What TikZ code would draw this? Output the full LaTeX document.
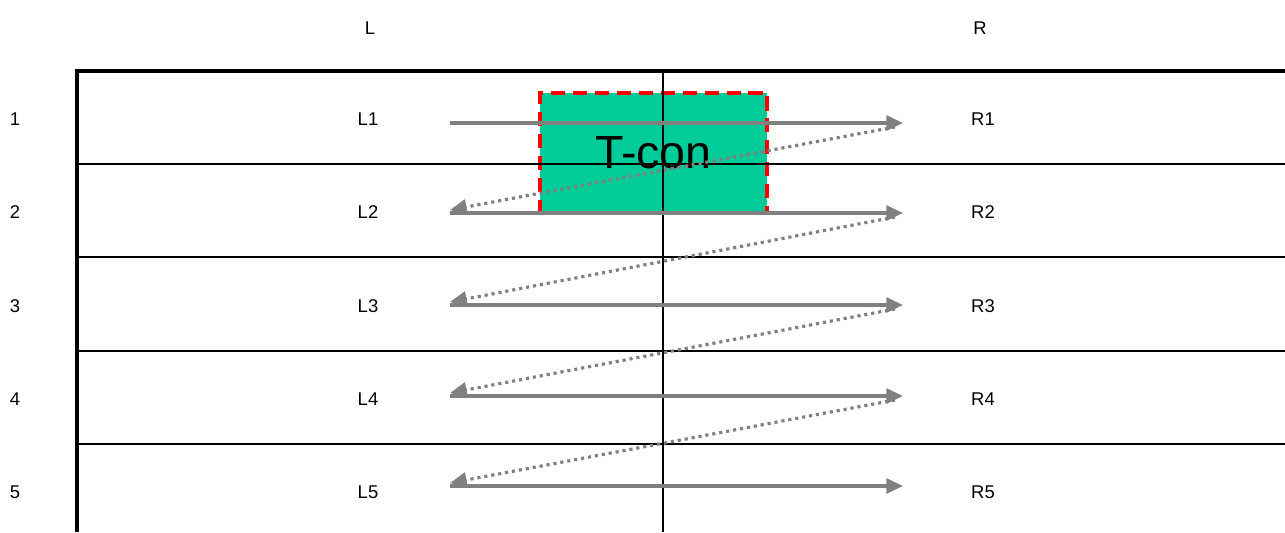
\documentclass[tikz,border=0pt]{standalone}
\usepackage{fontspec}
\setmainfont{Liberation Sans}
\usetikzlibrary{arrows.meta, positioning}
\usepackage{xcolor}
\definecolor{tcongreen}{RGB}{0,204,153}
\definecolor{linkgray}{RGB}{128,128,128}

\begin{document}
\begin{tikzpicture}[
    x=0.02cm, y=-0.02cm,
    lbl/.style={font=\fontsize{10.5}{12}\selectfont, inner sep=0pt},
    tconbox/.style={rectangle, minimum width=4.54cm, minimum height=2.4cm, fill=tcongreen, draw=red, line width=1.9pt, dash pattern=on 8pt off 4.5pt, font=\fontsize{26.5}{30}\selectfont},
    frame/.style={line width=2.3pt, black},
    rowline/.style={line width=1.2pt, black},
    midline/.style={line width=0.9pt, black},
    arr/.style={-{Triangle[length=9.5pt, width=8.5pt]}, line width=1.8pt, linkgray},
    dotarr/.style={-{Triangle[length=9.5pt, width=8.5pt]}, line width=1.8pt, linkgray, dash pattern=on 1.8pt off 2.2pt},
]
\useasboundingbox (0,0) rectangle (1285,532);

% T-con block
\node[tconbox] (tcon) at (653.5,153) {T-con};

% table
\draw[rowline] (77,164) -- (1285,164);
\draw[rowline] (77,257) -- (1285,257);
\draw[rowline] (77,351) -- (1285,351);
\draw[rowline] (77,444) -- (1285,444);
\draw[midline] (663,71) -- (663,532);
\draw[frame] (75,71) -- (1285,71);
\draw[frame] (77,70) -- (77,532);

% headers
\node[lbl] (hl) at (370,28) {L};
\node[lbl] (hr) at (980,28) {R};

% rows
\node[lbl] (n1) at (15,119) {1};
\node[lbl] (n2) at (15,212) {2};
\node[lbl] (n3) at (15,306) {3};
\node[lbl] (n4) at (15,399) {4};
\node[lbl] (n5) at (15,492) {5};

\node[lbl] (l1) at (368,119) {L1};
\node[lbl] (l2) at (368,212) {L2};
\node[lbl] (l3) at (368,306) {L3};
\node[lbl] (l4) at (368,399) {L4};
\node[lbl] (l5) at (368,492) {L5};

\node[lbl] (r1) at (983,119) {R1};
\node[lbl] (r2) at (983,212) {R2};
\node[lbl] (r3) at (983,306) {R3};
\node[lbl] (r4) at (983,399) {R4};
\node[lbl] (r5) at (983,492) {R5};

% link end points
\coordinate (ls1) at (450,123);
\coordinate (ls2) at (450,213);
\coordinate (ls3) at (450,305);
\coordinate (ls4) at (450,396);
\coordinate (ls5) at (450,486);
\coordinate (re1) at (903,123);
\coordinate (re2) at (903,213);
\coordinate (re3) at (903,305);
\coordinate (re4) at (903,396);
\coordinate (re5) at (903,486);

% links
\draw[arr] (ls1) -- (re1);
\draw[arr] (ls2) -- (re2);
\draw[arr] (ls3) -- (re3);
\draw[arr] (ls4) -- (re4);
\draw[arr] (ls5) -- (re5);

\draw[dotarr] ([shift={(-8,4)}]re1) -- ([shift={(0,-3)}]ls2);
\draw[dotarr] ([shift={(-8,4)}]re2) -- ([shift={(0,-3)}]ls3);
\draw[dotarr] ([shift={(-8,4)}]re3) -- ([shift={(0,-3)}]ls4);
\draw[dotarr] ([shift={(-8,4)}]re4) -- ([shift={(0,-3)}]ls5);

\end{tikzpicture}
\end{document}
